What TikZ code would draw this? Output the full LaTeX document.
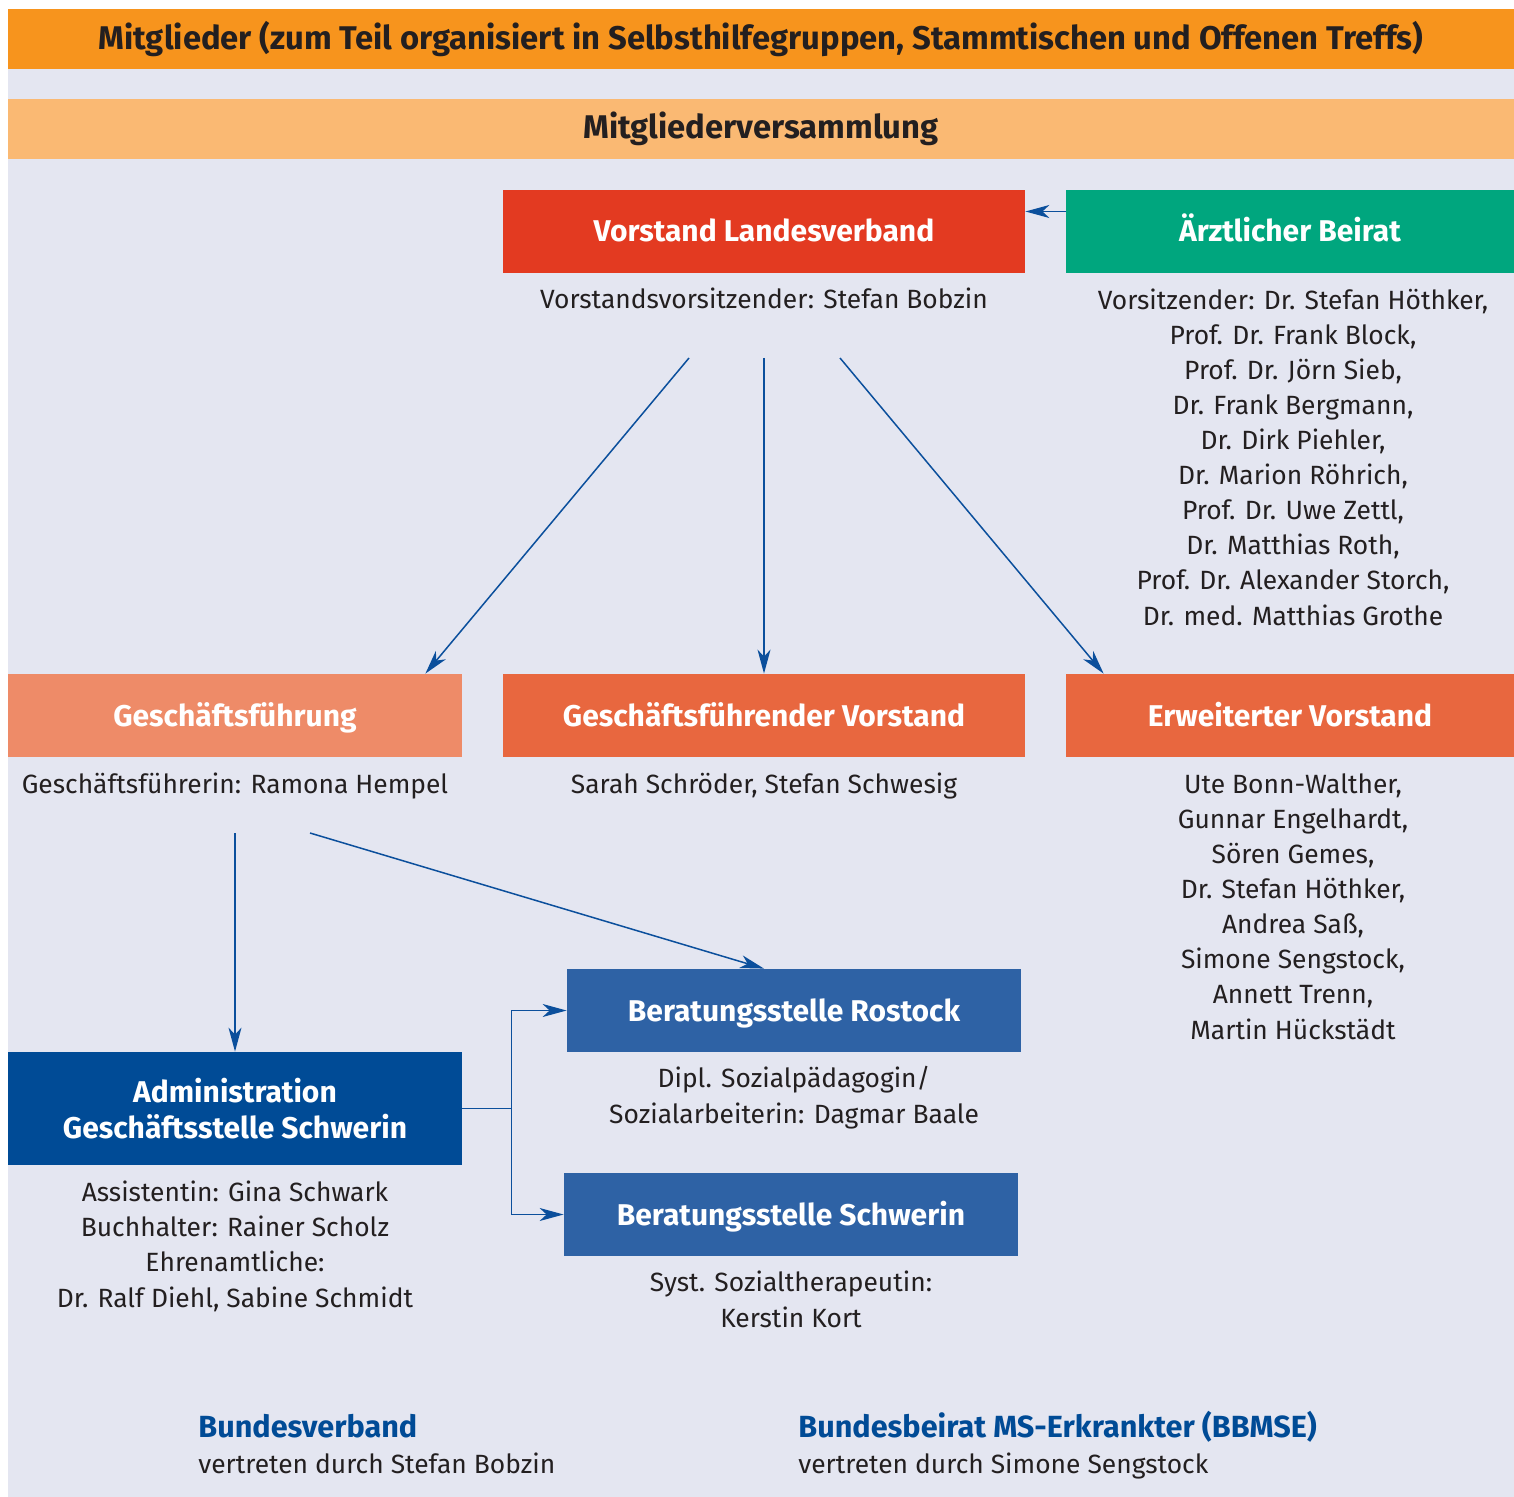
\documentclass[tikz,border=0pt]{standalone}
\usepackage{fontspec}
\setmainfont{Fira Sans}
\usetikzlibrary{arrows.meta}

\definecolor{mitgliederorange}{HTML}{F7941D}
\definecolor{versammlungorange}{HTML}{FAB973}
\definecolor{grund}{HTML}{E4E6F1}
\definecolor{vorstandrot}{HTML}{E33A21}
\definecolor{beiratgruen}{HTML}{00A67E}
\definecolor{fuehrunglachs}{HTML}{EE8B68}
\definecolor{vorstandorange}{HTML}{E8673F}
\definecolor{adminblau}{HTML}{004B96}
\definecolor{beratungblau}{HTML}{2E62A5}
\definecolor{pfeilblau}{HTML}{0B4F9C}
\definecolor{schrift}{HTML}{231F20}

\begin{document}
\begin{tikzpicture}[x=0.5pt, y=-0.5pt,
  >={Stealth[length=12pt, width=6.5pt, inset=3.5pt]},
  band/.style={minimum width=753pt, minimum height=30pt, inner sep=0pt, text=schrift,
    font=\bfseries\fontsize{16.4}{18}\selectfont},
  kasten/.style={minimum height=41.5pt, inner sep=0pt, text=white, align=center,
    font=\bfseries\fontsize{15}{18}\selectfont},
  einzeilig/.style={kasten, text height=13pt, text depth=2.5pt},
  namen/.style={anchor=base, align=center, text=schrift, inner sep=0pt,
    font=\fontsize{13.2}{17.55}\selectfont},
  bund/.style={anchor=base west, align=left, text=schrift, inner sep=0pt,
    font=\fontsize{13.2}{18}\selectfont},
  linie/.style={->, draw=pfeilblau, line width=0.75pt}]
\useasboundingbox (0,0) rectangle (1514,1497);
\fill[grund] (8,69) rectangle (1514,1497);

\node[band, fill=mitgliederorange] (mitglieder) at (761,39)
  {Mitglieder (zum Teil organisiert in Selbsthilfegruppen, Stammtischen und Offenen Treffs)};
\node[band, fill=versammlungorange] (versammlung) at (761,129) {Mitgliederversammlung};

% obere Reihe
\node[einzeilig, fill=vorstandrot, minimum width=261pt] (vorstand) at (764,231.5) {Vorstand Landesverband};
\node[einzeilig, fill=beiratgruen, minimum width=224pt] (beirat) at (1290,231.5) {Ärztlicher Beirat};
\node[namen] (vorsitz) at (764,309) {Vorstandsvorsitzender: Stefan Bobzin};
\node[namen] (beiratliste) at (1293,625) {Vorsitzender: Dr. Stefan Höthker,\\
  Prof. Dr. Frank Block,\\ Prof. Dr. Jörn Sieb,\\ Dr. Frank Bergmann,\\
  Dr. Dirk Piehler,\\ Dr. Marion Röhrich,\\ Prof. Dr. Uwe Zettl,\\
  Dr. Matthias Roth,\\ Prof. Dr. Alexander Storch,\\ Dr. med. Matthias Grothe};

% mittlere Reihe
\node[einzeilig, fill=fuehrunglachs, minimum width=227pt] (fuehrung) at (235,715.5) {Geschäftsführung};
\node[einzeilig, fill=vorstandorange, minimum width=261pt] (gfvorstand) at (764,715.5) {Geschäftsführender Vorstand};
\node[einzeilig, fill=vorstandorange, minimum width=224pt] (erweitert) at (1290,715.5) {Erweiterter Vorstand};
\node[namen] (fuehrerin) at (235,793) {Geschäftsführerin: Ramona Hempel};
\node[namen] (gfnamen) at (764,793) {Sarah Schröder, Stefan Schwesig};
\node[namen] (erweitertliste) at (1293,1039) {Ute Bonn-Walther,\\ Gunnar Engelhardt,\\
  Sören Gemes,\\ Dr. Stefan Höthker,\\ Andrea Saß,\\ Simone Sengstock,\\
  Annett Trenn,\\ Martin Hückstädt};

% untere Reihe
\node[kasten, fill=adminblau, minimum width=227pt, minimum height=56.5pt] (admin) at (235,1108.5)
  {Administration\\ Geschäftsstelle Schwerin};
\node[einzeilig, fill=beratungblau, minimum width=227pt] (rostock) at (794,1010.5) {Beratungsstelle Rostock};
\node[einzeilig, fill=beratungblau, minimum width=227pt] (schwerin) at (791,1214.5) {Beratungsstelle Schwerin};
\node[namen] (adminliste) at (235,1307) {Assistentin: Gina Schwark\\ Buchhalter: Rainer Scholz\\
  Ehrenamtliche:\\ Dr. Ralf Diehl, Sabine Schmidt};
\node[namen] (rostockname) at (794,1123) {Dipl. Sozialpädagogin/\\ Sozialarbeiterin: Dagmar Baale};
\node[namen] (schwerinname) at (791,1327) {Syst. Sozialtherapeutin:\\ Kerstin Kort};

\node[bund] (bundesverband) at (198,1473)
  {\textcolor{adminblau}{\bfseries\fontsize{15.3}{18}\selectfont Bundesverband}\\ vertreten durch Stefan Bobzin};
\node[bund] (bundesbeirat) at (798,1473)
  {\textcolor{adminblau}{\bfseries\fontsize{15.3}{18}\selectfont Bundesbeirat MS-Erkrankter (BBMSE)}\\ vertreten durch Simone Sengstock};

% Pfeile
\coordinate (v1) at (689,358);
\coordinate (v2) at (764,358);
\coordinate (v3) at (840,358);
\coordinate (g1) at (235,833);
\coordinate (g2) at (310,833);
\draw[linie] ([yshift=10pt]beirat.west) -- ([yshift=10pt]vorstand.east);
\draw[linie] (v1) -- ([xshift=-18.5pt]fuehrung.north east);
\draw[linie] (v2) -- (gfvorstand.north);
\draw[linie] (v3) -- ([xshift=19pt]erweitert.north west);
\draw[linie] (g1) -- (admin.north);
\draw[linie] (g2) -- ([xshift=-15pt]rostock.north);
\draw[linie] (admin.east) -- ++(49,0) coordinate (gabel) |- (rostock.west);
\draw[linie] (gabel) |- (schwerin.west);
\end{tikzpicture}
\end{document}
